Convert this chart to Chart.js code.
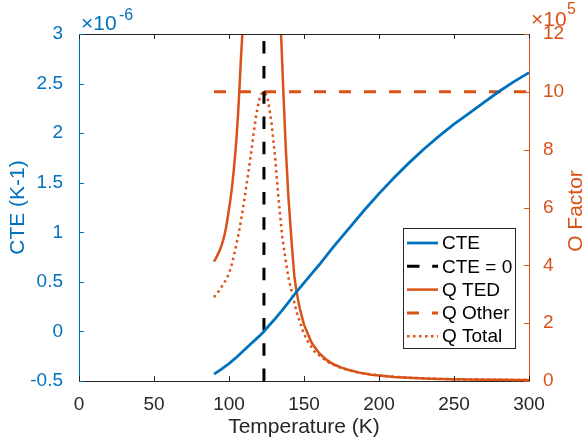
<!DOCTYPE html>
<html>
<head>
<meta charset="utf-8">
<script src="https://cdn.jsdelivr.net/npm/chart.js@4.4.1/dist/chart.umd.min.js"></script>
<style>
  html, body { margin: 0; padding: 0; background: #fff; }
</style>
</head>
<body>
<canvas id="chart-cte-q" width="582" height="443"></canvas>
<script>
// values
const cteTemps = [90, 95, 100, 105, 110, 115, 120, 123.3, 125, 130, 135, 140, 145, 150, 155, 160, 170, 180, 190, 200, 210, 220, 230, 240, 250, 260, 270, 280, 290, 300];
const cteValues = [-0.43, -0.38, -0.325, -0.26, -0.19, -0.12, -0.05, 0, 0.03, 0.115, 0.205, 0.3, 0.4, 0.49, 0.58, 0.67, 0.86, 1.04, 1.22, 1.39, 1.55, 1.70, 1.84, 1.97, 2.09, 2.2, 2.31, 2.42, 2.52, 2.61];

const zeroCteTemp = 123.3;

const qtedTemps = [90, 91, 92, 93, 94, 95, 96, 97, 98, 99, 100, 101, 102, 103, 104, 105, 106, 107, 108, 108.9, 110, 112, 114, 116, 123.3,
  130, 132, 133.5, 134.7, 136.2, 137.8, 139.6, 141.8, 143.5, 145, 147, 150, 155, 160, 165, 170, 175, 180, 187, 195, 200, 210, 220, 230, 240, 250, 260, 270, 280, 290, 300];
const qtedValues = [4.13, 4.22, 4.32, 4.43, 4.55, 4.68, 4.85, 5.05, 5.3, 5.6, 5.95, 6.3, 6.7, 7.2, 7.76, 8.4, 9.2, 10.15, 11.2, 12, 13.6, 17.5, 24, 35, null,
  35, 22, 15.5, 12, 10.06, 8.1, 6.37, 4.76, 3.65, 3.1, 2.55, 1.95, 1.33, 0.97, 0.73, 0.57, 0.46, 0.38, 0.29, 0.22, 0.19, 0.14, 0.11, 0.088, 0.072, 0.06, 0.051, 0.045, 0.04, 0.036, 0.033];

const qOtherTemps = [90, 300];
const qOtherValues = [10, 10];

const qTotalTemps = [90, 92, 94, 96, 98, 100, 102, 104, 106, 108, 110, 112, 114, 116, 118, 120, 121.5, 123.3, 124.5, 126, 127, 128.4, 130.7, 132.9, 135.5, 137.3, 139.5, 141.8, 145, 149.6, 153, 157.3, 162, 167, 175, 187, 200, 220, 250, 300];
const qTotalValues = [2.9, 3.03, 3.17, 3.33, 3.5, 3.72, 4.05, 4.5, 4.98, 5.55, 6.2, 6.9, 7.6, 8.4, 9.15, 9.7, 9.92, 10.0, 9.93, 9.7, 9.4, 8.91, 7.76, 6.37, 4.99, 4.35, 3.6, 3.1, 2.4, 1.67, 1.32, 1.0, 0.81, 0.62, 0.44, 0.28, 0.19, 0.11, 0.06, 0.033];

const xTicks = [0, 50, 100, 150, 200, 250, 300];
const cteTicks = [-0.5, 0, 0.5, 1, 1.5, 2, 2.5, 3];
const qTicks = [0, 2, 4, 6, 8, 10, 12];

const blue = '#0072BD';
const orange = '#D95319';
const dark = '#262626';
const fontFamily = '"Liberation Sans", Arial, Helvetica, sans-serif';

const toPoints = (xs, ys) => xs.map((x, i) => ({ x: x, y: ys[i] }));

const datasets = [
  { label: 'CTE', data: toPoints(cteTemps, cteValues), yAxisID: 'y',
    borderColor: blue, borderWidth: 2.8 },
  { label: 'CTE = 0', data: [{ x: zeroCteTemp, y: -0.5 }, { x: zeroCteTemp, y: 3 }], yAxisID: 'y',
    borderColor: '#000', borderWidth: 3, borderDash: [12.5, 12.7] },
  { label: 'Q TED', data: toPoints(qtedTemps, qtedValues), yAxisID: 'y2',
    borderColor: orange, borderWidth: 2.5, spanGaps: false },
  { label: 'Q Other', data: toPoints(qOtherTemps, qOtherValues), yAxisID: 'y2',
    borderColor: orange, borderWidth: 3, borderDash: [12, 13] },
  { label: 'Q Total', data: toPoints(qTotalTemps, qTotalValues), yAxisID: 'y2',
    borderColor: orange, borderWidth: 2.5, borderDash: [2.5, 3.5] }
];
datasets.forEach(d => {
  d.showLine = true;
  d.pointRadius = 0;
  d.tension = 0;
  d.fill = false;
  d.clip = { left: 5, right: 5, top: 0, bottom: 5 };
});

// inward ticks, box top, exponent labels, right title and legend the matlab way
const matlabDecor = {
  id: 'matlabDecor',
  afterDraw(chart) {
    const { ctx, chartArea: a, scales } = chart;
    ctx.save();
    ctx.lineWidth = 1;

    ctx.strokeStyle = dark;
    ctx.beginPath();
    ctx.moveTo(a.left, a.top + 0.5);
    ctx.lineTo(a.right, a.top + 0.5);
    xTicks.forEach(t => {
      const px = Math.round(scales.x.getPixelForValue(t)) + 0.5;
      ctx.moveTo(px, a.bottom);
      ctx.lineTo(px, a.bottom - 5);
      ctx.moveTo(px, a.top);
      ctx.lineTo(px, a.top + 5);
    });
    ctx.stroke();

    ctx.strokeStyle = blue;
    ctx.beginPath();
    cteTicks.forEach(t => {
      const py = Math.round(scales.y.getPixelForValue(t)) + 0.5;
      ctx.moveTo(a.left, py);
      ctx.lineTo(a.left + 5, py);
    });
    ctx.stroke();

    ctx.strokeStyle = orange;
    ctx.beginPath();
    qTicks.forEach(t => {
      const py = Math.round(scales.y2.getPixelForValue(t)) + 0.5;
      ctx.moveTo(a.right, py);
      ctx.lineTo(a.right - 5, py);
    });
    ctx.stroke();

    // exponent labels
    ctx.textBaseline = 'alphabetic';
    ctx.textAlign = 'left';
    ctx.fillStyle = blue;
    ctx.font = '21px ' + fontFamily;
    ctx.fillText('\u00d710', 81, 30);
    ctx.font = '16px ' + fontFamily;
    ctx.fillText('-6', 119, 20);
    ctx.fillStyle = orange;
    ctx.font = '21px ' + fontFamily;
    ctx.fillText('\u00d710', 531, 26);
    ctx.font = '16px ' + fontFamily;
    ctx.fillText('5', 567, 14);

    // right axis title, read bottom to top, cut by the edge
    ctx.save();
    ctx.translate(582, 211);
    ctx.rotate(-Math.PI / 2);
    ctx.textAlign = 'center';
    ctx.font = '21px ' + fontFamily;
    ctx.fillText('Q Factor', 0, 0);
    ctx.restore();

    // legend
    const lx = 403, ly = 228, lw = 112, lh = 120;
    ctx.fillStyle = '#fff';
    ctx.fillRect(lx, ly, lw, lh);
    ctx.strokeStyle = dark;
    ctx.strokeRect(lx + 0.5, ly + 0.5, lw, lh);
    ctx.font = '19px ' + fontFamily;
    ctx.textBaseline = 'middle';
    chart.data.datasets.forEach((d, i) => {
      const rowY = ly + 15 + i * 23.3;
      ctx.save();
      ctx.strokeStyle = d.borderColor;
      ctx.lineWidth = d.borderWidth;
      ctx.setLineDash(d.borderDash || []);
      ctx.beginPath();
      ctx.moveTo(lx + 4, rowY);
      ctx.lineTo(lx + 35, rowY);
      ctx.stroke();
      ctx.restore();
      ctx.fillStyle = '#000';
      ctx.fillText(d.label, lx + 39, rowY + 1);
    });
    ctx.restore();
  }
};

new Chart(document.getElementById('chart-cte-q'), {
  type: 'scatter',
  data: { datasets: datasets },
  options: {
    responsive: false,
    animation: false,
    layout: { padding: { top: 34, left: 0, right: 0, bottom: 0 } },
    plugins: { legend: { display: false }, tooltip: { enabled: false } },
    scales: {
      x: {
        type: 'linear', min: 0, max: 300,
        afterBuildTicks: s => { s.ticks = xTicks.map(v => ({ value: v })); },
        ticks: { color: dark, padding: 4, font: { family: fontFamily, size: 19 }, maxRotation: 0 },
        grid: { display: false },
        border: { color: dark },
        title: { display: true, text: 'Temperature (K)', color: dark,
          font: { family: fontFamily, size: 21 }, padding: { top: 0, bottom: 3 } },
        afterFit: s => { s.height = 62; }
      },
      y: {
        type: 'linear', position: 'left', min: -0.5, max: 3,
        afterBuildTicks: s => { s.ticks = cteTicks.map(v => ({ value: v })); },
        ticks: { color: blue, padding: 8, font: { family: fontFamily, size: 19 }, callback: v => String(v) },
        grid: { display: false },
        border: { color: blue },
        title: { display: true, text: 'CTE (K-1)', color: blue,
          font: { family: fontFamily, size: 21 }, padding: { top: 6, bottom: 0 } },
        afterFit: s => { s.width = 79; }
      },
      y2: {
        type: 'linear', position: 'right', min: 0, max: 12,
        afterBuildTicks: s => { s.ticks = qTicks.map(v => ({ value: v })); },
        ticks: { color: orange, padding: 6, font: { family: fontFamily, size: 19 }, callback: v => String(v) },
        grid: { display: false },
        border: { color: orange },
        afterFit: s => { s.width = 53; }
      }
    }
  },
  plugins: [matlabDecor]
});
</script>
</body>
</html>
